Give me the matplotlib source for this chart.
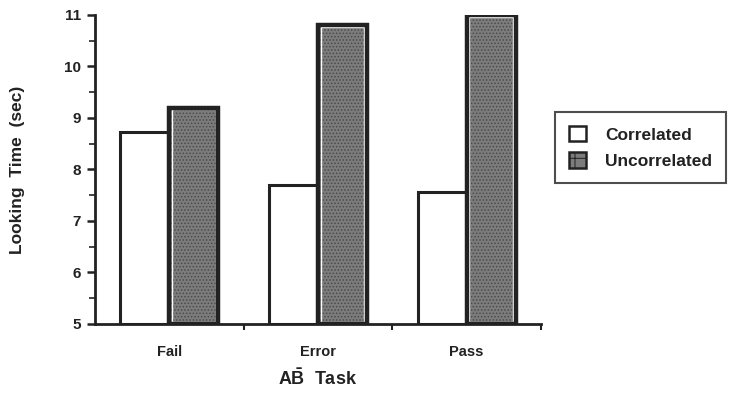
import numpy as np
import matplotlib
matplotlib.use('Agg')
import matplotlib.pyplot as plt
from matplotlib.patches import Patch

plt.rcParams['font.family'] = ['Liberation Sans', 'DejaVu Sans']
plt.rcParams['mathtext.fontset'] = 'custom'
plt.rcParams['mathtext.rm'] = 'Liberation Sans:bold'
plt.rcParams['mathtext.bf'] = 'Liberation Sans:bold'
plt.rcParams['hatch.linewidth'] = 0.7

# data
tasks = ['Fail', 'Error', 'Pass']
correlated = [8.73, 7.70, 7.56]
uncorrelated = [9.20, 10.80, 11.00]
series_names = ['Correlated', 'Uncorrelated']
y_ticks = [5, 6, 7, 8, 9, 10, 11]

fig = plt.figure(figsize=(7.31, 3.94), dpi=100)
ax = fig.add_axes([0.130, 0.178, 0.610, 0.784])

x = np.arange(len(tasks))
w = 0.33
base = 5

# Correlated: plain white bars
ax.bar(x - w / 2, np.array(correlated) - base, w, bottom=base,
       facecolor='white', edgecolor='#222222', linewidth=2.2, zorder=2)

# Uncorrelated: stippled grey, thick black border, thin white inner line
unc = np.array(uncorrelated) - base
ax.bar(x + w / 2, unc, w, bottom=base, facecolor='#7c7c7c',
       edgecolor='#4a4a4a', hatch='.....', linewidth=0, zorder=2)
ax.bar(x + w / 2, unc - 0.06, w - 0.035, bottom=base + 0.03,
       facecolor='none', edgecolor='white', linewidth=1.0, zorder=3)
ax.bar(x + w / 2, unc, w, bottom=base, facecolor='none',
       edgecolor='#222222', linewidth=3.2, zorder=4)

ax.set_xlim(-0.5, 2.5)
ax.set_ylim(5, 11)
ax.set_yticks(y_ticks)
ax.set_yticks(np.arange(5.5, 11, 1.0), minor=True)
ax.set_xticks(x)
ax.set_xticklabels(tasks)
ax.set_xticks([0.5, 1.5, 2.5], minor=True)

for s in ['top', 'right']:
    ax.spines[s].set_visible(False)
for s in ['left', 'bottom']:
    ax.spines[s].set_linewidth(2)
    ax.spines[s].set_color('#222222')

ax.tick_params(axis='y', which='major', length=6, width=1.8, labelsize=11,
               colors='#222222', pad=4)
ax.tick_params(axis='y', which='minor', length=4, width=1.2, colors='#222222')
ax.tick_params(axis='x', which='major', length=0, labelsize=10.5, pad=15,
               colors='#222222')
ax.tick_params(axis='x', which='minor', length=4, width=1.5, colors='#222222')
for lab in ax.get_yticklabels() + ax.get_xticklabels():
    lab.set_fontweight('bold')

ax.set_ylabel('Looking  Time  (sec)', fontsize=12.5, fontweight='bold',
              color='#222222', labelpad=28)
ax.set_xlabel(r'$\mathbf{A\bar{B}}$  Task', fontsize=13, fontweight='bold',
              color='#222222', labelpad=7)

handles = [Patch(facecolor='white', edgecolor='#222222', linewidth=1.8),
           Patch(facecolor='#7c7c7c', edgecolor='#222222', linewidth=1.8,
                 hatch='+')]
leg = fig.legend(handles, series_names, loc='upper left',
                 bbox_to_anchor=(0.759, 0.716), frameon=True, fancybox=False,
                 prop={'size': 12.5, 'weight': 'bold'}, handlelength=1.0,
                 handleheight=1.0, borderpad=0.8, labelspacing=0.55,
                 handletextpad=1.1, borderaxespad=0)
leg.get_frame().set_edgecolor('#222222')
leg.get_frame().set_linewidth(1.5)
for t in leg.get_texts():
    t.set_color('#222222')

fig.savefig('out.png', dpi=100, facecolor='white')
